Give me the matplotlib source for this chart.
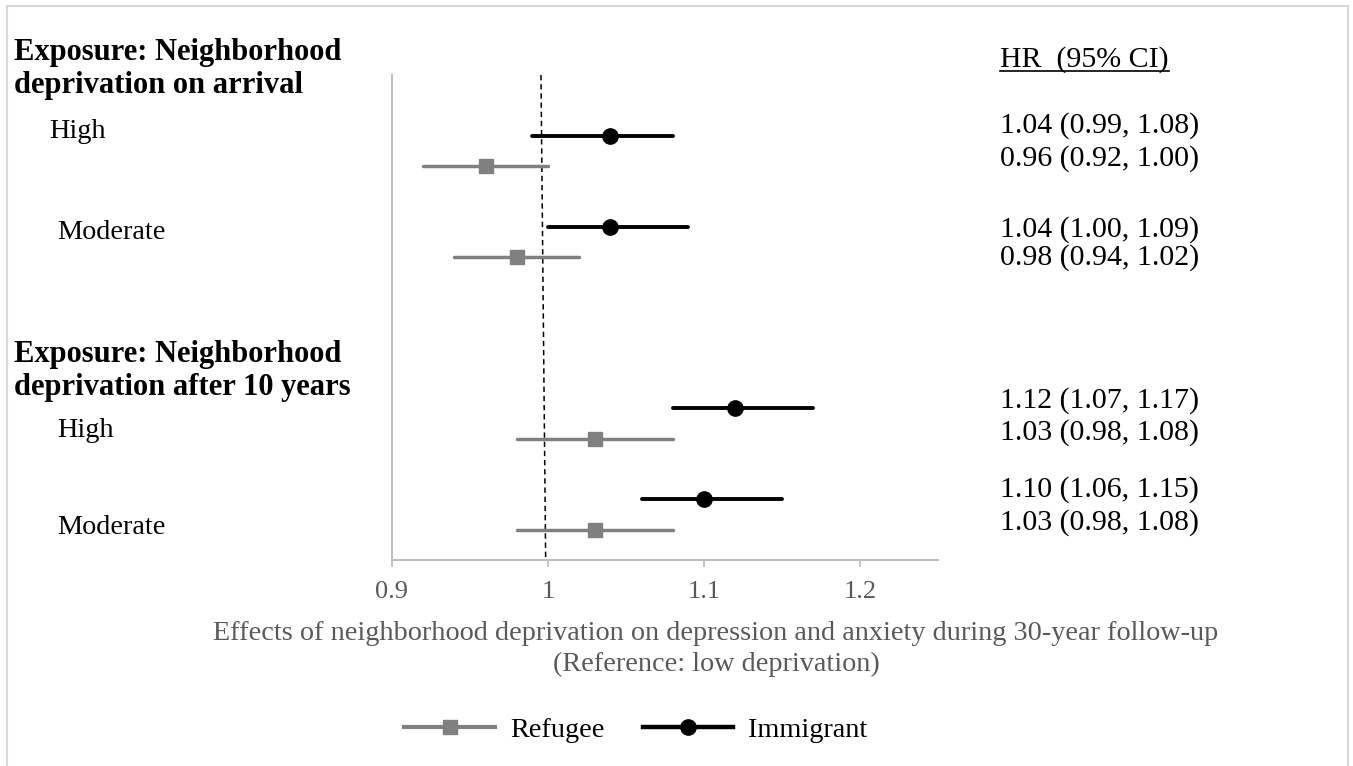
import numpy as np
import matplotlib
matplotlib.use('Agg')
import matplotlib.pyplot as plt
from matplotlib.lines import Line2D
from matplotlib.patches import Rectangle

plt.rcParams['font.family'] = ['Liberation Serif', 'DejaVu Serif']

# data: HR and 95% CI per exposure row (arrival High, arrival Moderate, 10y High, 10y Moderate)
imm_hr = [1.04, 1.04, 1.12, 1.10]
imm_lo = [0.99, 1.00, 1.08, 1.06]
imm_hi = [1.08, 1.09, 1.17, 1.15]
ref_hr = [0.96, 0.98, 1.03, 1.03]
ref_lo = [0.92, 0.94, 0.98, 0.98]
ref_hi = [1.00, 1.02, 1.08, 1.08]
imm_text = ['1.04 (0.99, 1.08)', '1.04 (1.00, 1.09)', '1.12 (1.07, 1.17)', '1.10 (1.06, 1.15)']
ref_text = ['0.96 (0.92, 1.00)', '0.98 (0.94, 1.02)', '1.03 (0.98, 1.08)', '1.03 (0.98, 1.08)']
xticks = [0.9, 1.0, 1.1, 1.2]
xtick_labels = ['0.9', '1', '1.1', '1.2']
headers = [['Exposure: Neighborhood', 'deprivation on arrival'],
           ['Exposure: Neighborhood', 'deprivation after 10 years']]
levels = ['High', 'Moderate', 'High', 'Moderate']

# layout (row slots, pixel positions of the text)
imm_y = [14, 11, 5, 2]
ref_y = [13, 10, 4, 1]
imm_text_px = [133, 237, 408, 497]
ref_text_px = [166, 265, 440, 530]
header_px = [(14, 60, 93), (14, 362, 395)]
level_px = [(49, 138), (57, 239), (57, 437), (57, 534)]

W, H = 1353, 766
fig = plt.figure(figsize=(W / 100, H / 100), dpi=100)

def fx(x):
    return x / W

def fy(y):
    return 1 - y / H

fs = 20.3
fs_bold = 22
fs_hr = 21.5

ax = fig.add_axes([fx(392), fy(560), fx(938) - fx(392), fy(75) - fy(560)])
ax.set_xlim(0.9, 1.25)
ax.set_ylim(0, 16)

gray = '#808080'
eb_r = ax.errorbar(ref_hr, ref_y, xerr=[np.subtract(ref_hr, ref_lo), np.subtract(ref_hi, ref_hr)],
                   fmt='s', color=gray, ms=10.5, elinewidth=2.5, capsize=0, zorder=3)
eb_i = ax.errorbar(imm_hr, imm_y, xerr=[np.subtract(imm_hr, imm_lo), np.subtract(imm_hi, imm_hr)],
                   fmt='o', color='black', ms=11, elinewidth=2.8, capsize=0, zorder=4)
for eb in (eb_r, eb_i):
    for lc in eb[2]:
        lc.set_capstyle('round')

# reference line (slightly slanted, as in the original)
ax.plot([0.9955, 0.9985], [16, 0], color='black', lw=1.1, ls=(0, (3.5, 2.5)), zorder=2)

for s in ['top', 'right']:
    ax.spines[s].set_visible(False)
for s in ['left', 'bottom']:
    ax.spines[s].set_color('#bfbfbf')
    ax.spines[s].set_linewidth(1.5)
ax.set_yticks([])
ax.set_xticks(xticks)
ax.set_xticklabels(xtick_labels)
ax.tick_params(axis='x', length=5, width=1.3, color='#bfbfbf', labelcolor='#595959',
               labelsize=19, pad=10)

# left labels
for (x, y1, y2), (l1, l2) in zip(header_px, headers):
    fig.text(fx(x), fy(y1), l1, fontsize=fs_bold, fontweight='bold', va='baseline')
    fig.text(fx(x), fy(y2), l2, fontsize=fs_bold, fontweight='bold', va='baseline')
for (x, y), lab in zip(level_px, levels):
    fig.text(fx(x), fy(y), lab, fontsize=fs, va='baseline')

# HR column
hdr = fig.text(fx(1000), fy(67), 'HR  (95% CI)', fontsize=fs_hr, va='baseline')
for t, y in zip(imm_text, imm_text_px):
    fig.text(fx(1000), fy(y), t, fontsize=fs_hr, va='baseline')
for t, y in zip(ref_text, ref_text_px):
    fig.text(fx(1000), fy(y), t, fontsize=fs_hr, va='baseline')
fig.canvas.draw()
bb = hdr.get_window_extent().transformed(fig.transFigure.inverted())
fig.add_artist(Line2D([bb.x0, bb.x1], [fy(71), fy(71)], color='black', lw=1.2))

# x label
fig.text(fx(716), fy(633), 'Effects of neighborhood deprivation on depression and anxiety during 30-year follow-up',
         fontsize=fs, color='#595959', ha='center', va='center')
fig.text(fx(716), fy(664), '(Reference: low deprivation)',
         fontsize=fs, color='#595959', ha='center', va='center')

# legend
handles = [Line2D([], [], color=gray, marker='s', ms=10.5, lw=3),
           Line2D([], [], color='black', marker='o', ms=11, lw=3.2)]
fig.legend(handles, ['Refugee', 'Immigrant'], loc='center', bbox_to_anchor=(fx(636), fy(730)),
           ncol=2, frameon=False, fontsize=fs, handlelength=3.2, handletextpad=0.55,
           columnspacing=1.35)

# outer border
fig.add_artist(Rectangle((fx(7), -0.05), fx(1348) - fx(7), fy(6) + 0.05, fill=False,
                         edgecolor='#d9d9d9', lw=1.5, transform=fig.transFigure))

fig.savefig('out.png', dpi=100)
